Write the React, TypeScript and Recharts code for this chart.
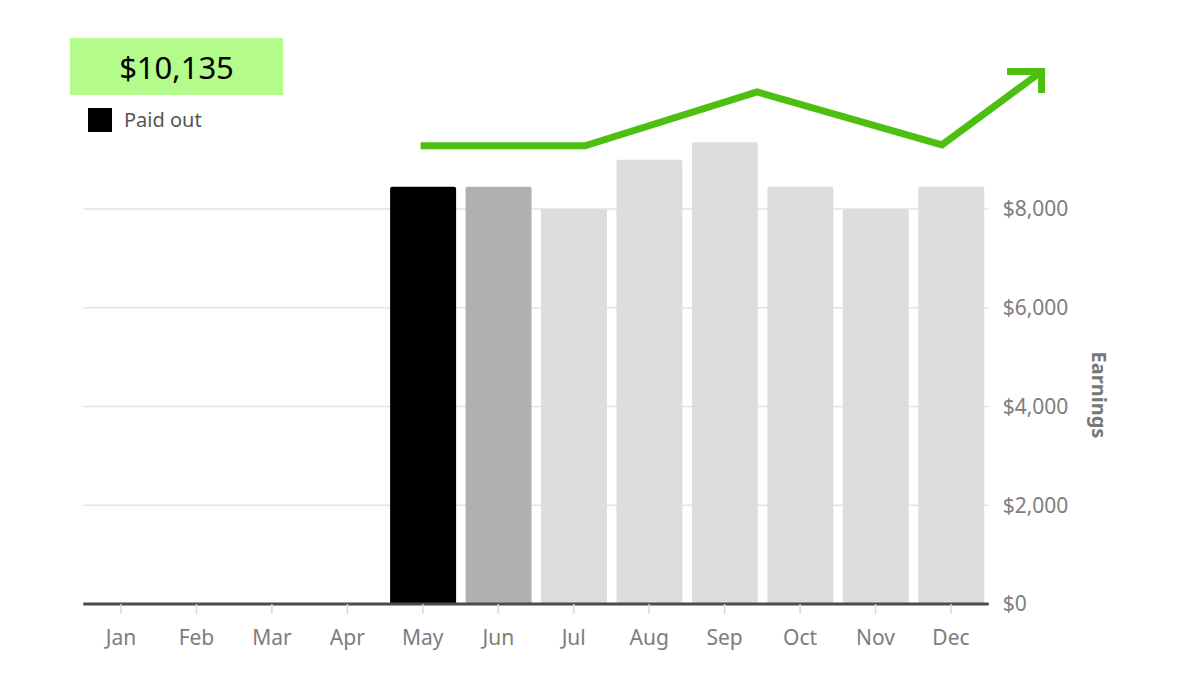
import { ComposedChart, LineChart, Bar, Line, Cell, XAxis, YAxis, CartesianGrid, Label } from 'recharts';

const months = ['Jan', 'Feb', 'Mar', 'Apr', 'May', 'Jun', 'Jul', 'Aug', 'Sep', 'Oct', 'Nov', 'Dec'];
const earnings = [0, 0, 0, 0, 8450, 8450, 8000, 9000, 9350, 8450, 8000, 8450];
const status = ['none', 'none', 'none', 'none', 'paid', 'pending', 'future', 'future', 'future', 'future', 'future', 'future'];
const yTicks = [0, 2000, 4000, 6000, 8000];

// trend arrow, x measured in month units from the left edge of Jan
const trendX = [4.47, 6.65, 8.93, 11.38, 12.7];
const trendY = [9280, 9280, 10370, 9300, 10785];

const STATUS_COLORS: Record<string, string> = {
  none: '#dddddd',
  paid: '#000000',
  pending: '#b0b0b0',
  future: '#dddddd',
};

const W = 1200;
const H = 691;
const MARGIN = { top: 60.9, right: 86.3, bottom: 37, left: 83.3 };
const Y_DOMAIN: [number, number] = [0, 11000];
const TICK_COLOR = '#7d7d7d';
const GREEN = '#4cbf10';
const FONT = '"Noto Sans", sans-serif';

const barData = months.map((m, i) => ({ month: m, value: earnings[i], status: status[i] }));
const trendData = trendX.map((x, i) => ({ x, y: trendY[i] }));

const money = (v: number) => `$${v.toLocaleString('en-US')}`;

function ArrowDot(props: any) {
  const { cx, cy, index } = props;
  if (index !== trendData.length - 1) return <g key={`d-${index}`} />;
  return (
    <path
      key={`d-${index}`}
      d={`M${cx - 34.5},${cy} L${cx},${cy} L${cx},${cy + 21.5}`}
      fill="none"
      stroke={GREEN}
      strokeWidth={7}
      strokeLinecap="butt"
      strokeLinejoin="miter"
    />
  );
}

export default function App() {
  return (
    <div style={{ position: 'absolute', left: 0, top: 0, width: W, height: H, background: '#fff', fontFamily: FONT }}>
      <ComposedChart width={W} height={H} data={barData} margin={MARGIN} style={{ position: 'absolute', left: 0, top: 0 }}>
        <CartesianGrid vertical={false} horizontalValues={yTicks} stroke="#e3e3e3" strokeWidth={1.5} />
        <XAxis
          dataKey="month"
          height={50}
          axisLine={{ stroke: '#4a4a4a', strokeWidth: 3 }}
          tickLine={{ stroke: '#d9d9d9', strokeWidth: 1.5 }}
          tickSize={10}
          tickMargin={16}
          tick={{ fill: TICK_COLOR, fontSize: 21 }}
        />
        <YAxis
          orientation="right"
          width={125}
          domain={Y_DOMAIN}
          ticks={yTicks}
          tickFormatter={money}
          axisLine={false}
          tickLine={false}
          tickSize={0}
          tickMargin={14}
          tick={{ fill: TICK_COLOR, fontSize: 21 }}
        >
          <Label
            content={(p: any) => {
              const vb = p.viewBox;
              const x = vb.x + vb.width - 14;
              const y = vb.y + vb.height / 2 + 62.5;
              return (
                <text
                  x={x}
                  y={y}
                  transform={`rotate(90, ${x}, ${y})`}
                  textAnchor="middle"
                  dominantBaseline="central"
                  fill="#777"
                  fontSize={20}
                  fontWeight={700}
                >
                  Earnings
                </text>
              );
            }}
          />
        </YAxis>
        <Bar dataKey="value" barSize={66} radius={[2, 2, 0, 0]} isAnimationActive={false}>
          {barData.map((d, i) => (
            <Cell key={`c-${i}`} fill={STATUS_COLORS[d.status]} />
          ))}
        </Bar>
      </ComposedChart>

      <LineChart
        width={W}
        height={H}
        data={trendData}
        margin={{ top: MARGIN.top, right: 135.8, bottom: 87, left: MARGIN.left }}
        style={{ position: 'absolute', left: 0, top: 0, pointerEvents: 'none' }}
      >
        <XAxis type="number" dataKey="x" domain={[0, 13]} hide />
        <YAxis type="number" domain={Y_DOMAIN} hide />
        <Line
          type="linear"
          dataKey="y"
          stroke={GREEN}
          strokeWidth={7}
          strokeLinejoin="miter"
          dot={ArrowDot}
          activeDot={false}
          isAnimationActive={false}
        />
      </LineChart>

      <div
        style={{
          position: 'absolute',
          left: 70,
          top: 38,
          width: 213,
          height: 57,
          background: '#b3fb8b',
          display: 'flex',
          alignItems: 'center',
          justifyContent: 'center',
          fontSize: 31,
          fontWeight: 400,
          color: '#000',
        }}
      >
        $10,135
      </div>
      <div style={{ position: 'absolute', left: 88, top: 108, display: 'flex', alignItems: 'center' }}>
        <div style={{ width: 24, height: 24, background: '#000' }} />
        <span style={{ marginLeft: 12, fontSize: 20, color: '#555', lineHeight: '24px' }}>Paid out</span>
      </div>
    </div>
  );
}
